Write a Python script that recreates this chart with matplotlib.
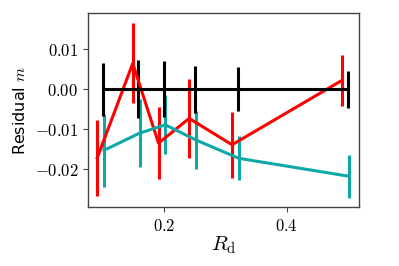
import numpy as np
import matplotlib
matplotlib.use('Agg')
import matplotlib.pyplot as plt

plt.rcParams['mathtext.fontset'] = 'cm'
plt.rcParams['font.family'] = ['DejaVu Sans']

# R_d bins
rd = [0.1, 0.158, 0.2, 0.25, 0.32, 0.5]

# reference (black)
m_ref = [0.0, 0.0, 0.0, 0.0, 0.0, 0.0]
err_ref = [0.0067, 0.0073, 0.007, 0.0059, 0.0055, 0.0046]

# red series
m_red = [-0.0172, 0.0065, -0.0135, -0.0073, -0.0139, 0.0023]
err_red = [0.0095, 0.010, 0.009, 0.0098, 0.0083, 0.0064]

# cyan series
m_cyan = [-0.0153, -0.011, -0.0089, -0.0127, -0.0173, -0.0218]
err_cyan = [0.0092, 0.0085, 0.0074, 0.0073, 0.0055, 0.0054]

red_shift = -0.009
cyan_shift = 0.002

fig = plt.figure(figsize=(3.99, 2.66), dpi=100)
ax = fig.add_axes([0.2206, 0.2218, 0.679, 0.729])

lw = 2.2
ax.errorbar(np.array(rd) + red_shift, m_red, yerr=err_red, color='#ff0000', lw=lw, elinewidth=lw, capsize=0)
ax.errorbar(np.array(rd) + cyan_shift, m_cyan, yerr=err_cyan, color='#0fa8a8', lw=lw, elinewidth=lw, capsize=0)
ax.errorbar(rd, m_ref, yerr=err_ref, color='black', lw=lw, elinewidth=lw, capsize=0)

ax.set_xlim(0.076, 0.518)
ax.set_ylim(-0.0295, 0.0191)
ax.set_xticks([0.2, 0.4])
ax.set_yticks([-0.02, -0.01, 0.0, 0.01])
ax.set_xticklabels([r'$0.2$', r'$0.4$'])
ax.set_yticklabels([r'$-0.02$', r'$-0.01$', r'$0.00$', r'$0.01$'])
ax.tick_params(labelsize=12, color='#444444', length=3.5)
for s in ax.spines.values():
    s.set_color('#444444')
    s.set_linewidth(1.0)

ax.set_xlabel(r'$R_{\rm d}$', fontsize=15, labelpad=0)
ax.set_ylabel(r'Residual $m$', fontsize=11.5, labelpad=5)

fig.savefig('out.png', dpi=100)
